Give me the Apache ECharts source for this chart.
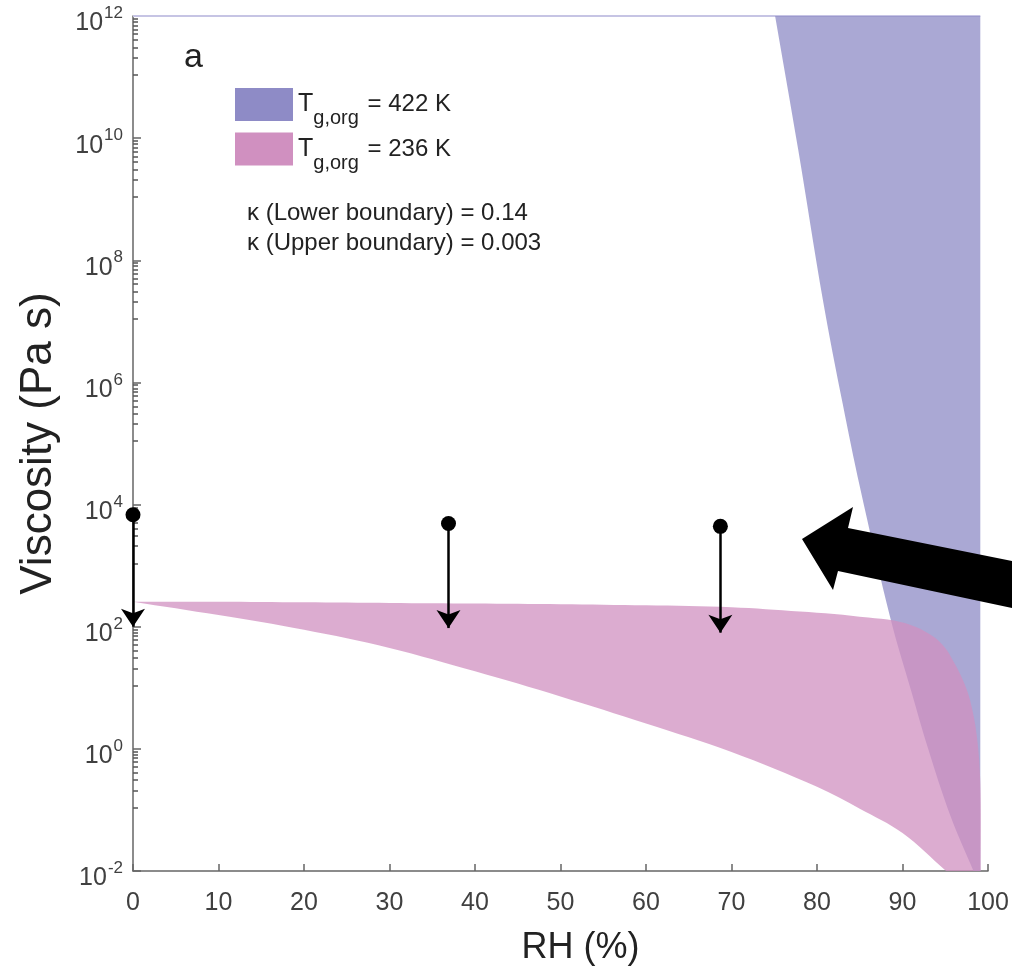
<!DOCTYPE html>
<html><head><meta charset="utf-8">
<script src="https://cdn.jsdelivr.net/npm/echarts@6/dist/echarts.min.js"></script>
<style>html,body{margin:0;padding:0;background:#fff}#c{width:1012px;height:978px}</style>
</head><body><div id="c"></div>
<script>
// ---- data ----
const xTickValues = [0, 10, 20, 30, 40, 50, 60, 70, 80, 90, 100];
// T_g,org = 422 K region: lower boundary then right edge (RH %, viscosity Pa s)
const blueRH   = [75.1, 77.8, 80.7, 83.0, 85.0, 88.6, 91.0, 93.0, 95.6, 98.3, 99.1, 99.1];
const blueVisc = [1e12, 6.5e9, 2.2e7, 4.5e5, 2.0e4, 135, 9, 1.0, 0.08, 0.01, 0.01, 1e12];
// T_g,org = 236 K region: upper boundary (kappa = 0.003)
const pinkUpperRH   = [0, 10, 20, 30, 40, 50, 60, 70, 78, 82, 86, 89, 91.5, 93.6, 95.0, 95.9, 97.0, 97.9, 98.7, 99.1, 99.15];
const pinkUpperVisc = [257, 257, 251, 245, 240, 234, 224, 209, 178, 162, 141, 126, 100, 69, 45, 28, 14, 6.3, 1.6, 0.28, 0.01];
// lower boundary (kappa = 0.14)
const pinkLowerRH   = [0, 10, 20, 30, 40, 50, 60, 70, 80, 85, 90, 95.1];
const pinkLowerVisc = [257, 155, 89, 45, 18.6, 7.2, 2.6, 0.89, 0.24, 0.105, 0.042, 0.01];
// measurements with downward arrows
const dotRH = [0, 36.9, 68.7];
const dotVisc = [6.8e3, 4.9e3, 4.4e3];
const arrowTipVisc = [100, 95, 80];
const topLineRH = [0, 99.1];
const topLineVisc = [1e12, 1e12];
const legendNames = ['T_g,org = 422 K', 'T_g,org = 236 K'];
const seriesColors = ['#8e8bc6', '#d090c0'];

const FONT = 'Liberation Sans, Arial, Helvetica, sans-serif';
const chart = echarts.init(document.getElementById('c'), null, {renderer: 'canvas'});

// corners: indices of vertices kept sharp while the outline is smoothed
function regionSeries(name, xs, ys, color, z, corners) {
  return {
    type: 'custom', name: name, coordinateSystem: 'cartesian2d', clip: true, silent: true, z: z,
    itemStyle: {color: color},
    data: [[xs[0], ys[0]]],
    encode: {x: 0, y: 1},
    renderItem: function (params, api) {
      const pts = [];
      xs.forEach((x, i) => {
        const p = api.coord([x, ys[i]]);
        pts.push(p);
        if (corners.indexOf(i) >= 0) pts.push([p[0], p[1]]);
      });
      return {type: 'polygon', shape: {points: pts, smooth: 0.35}, style: {fill: color, opacity: 0.75}};
    }
  };
}

const pinkRH = pinkUpperRH.concat(pinkLowerRH.slice().reverse());
const pinkVisc = pinkUpperVisc.concat(pinkLowerVisc.slice().reverse());
const nUp = pinkUpperRH.length;

const option = {
  animation: false,
  backgroundColor: '#fff',
  grid: {left: 133, right: 24, top: 16, bottom: 107, containLabel: false},
  xAxis: {
    type: 'value', min: 0, max: 100, interval: 10,
    axisLine: {show: true, onZero: false, lineStyle: {color: '#666', width: 1.5}},
    axisTick: {show: true, inside: true, length: 7, lineStyle: {color: '#666', width: 1.5}},
    splitLine: {show: false},
    axisLabel: {margin: 20, fontSize: 25, color: '#404040', fontFamily: FONT,
      formatter: v => xTickValues.indexOf(v) >= 0 ? String(v) : ''},
    name: 'RH (%)', nameLocation: 'middle', nameGap: 59,
    nameTextStyle: {fontSize: 36, color: '#222', fontFamily: FONT, padding: [0, 0, 0, 40]}
  },
  yAxis: {
    type: 'log', logBase: 10, min: 0.01, max: 1e12, interval: 2,
    axisLine: {show: true, lineStyle: {color: '#666', width: 1.5}},
    axisTick: {show: true, inside: true, length: 8, lineStyle: {color: '#666', width: 1.5}},
    minorTick: {show: true, splitNumber: 10, length: 5, lineStyle: {color: '#555', width: 1.5}},
    splitLine: {show: false},
    axisLabel: {
      margin: 10, fontFamily: FONT, color: '#404040',
      formatter: v => '{b|10}{e|' + Math.round(Math.log10(v)) + '}',
      rich: {
        b: {fontSize: 25, color: '#404040', fontFamily: FONT, padding: [15, 0, 0, 0]},
        e: {fontSize: 17, color: '#404040', fontFamily: FONT, padding: [0, 0, 5, 1]}
      }
    },
    name: 'Viscosity (Pa s)', nameLocation: 'middle', nameGap: 72,
    nameTextStyle: {fontSize: 44, color: '#222', fontFamily: FONT}
  },
  legend: {
    orient: 'vertical', left: 235, top: 88, padding: 0, itemGap: 4,
    itemWidth: 58, itemHeight: 33, icon: 'rect', selectedMode: false,
    data: legendNames,
    formatter: n => '{t|T}{s|g,org}{n| = ' + n.split('= ')[1] + '}',
    textStyle: {
      fontFamily: FONT, color: '#222',
      rich: {
        t: {fontSize: 25, color: '#222', fontFamily: FONT},
        s: {fontSize: 20, color: '#222', fontFamily: FONT, padding: [28, 2, 0, 0]},
        n: {fontSize: 24, color: '#222', fontFamily: FONT}
      }
    }
  },
  graphic: [
    {type: 'text', x: 184, y: 58, style: {text: 'a', fontSize: 34, fontFamily: FONT, fill: '#222', verticalAlign: 'middle'}},
    {type: 'text', x: 247, y: 213, style: {text: 'κ (Lower boundary) = 0.14', fontSize: 24, fontFamily: FONT, fill: '#222', verticalAlign: 'middle'}},
    {type: 'text', x: 247, y: 243, style: {text: 'κ (Upper boundary) = 0.003', fontSize: 24, fontFamily: FONT, fill: '#222', verticalAlign: 'middle'}},
    {type: 'polygon', z: 100, shape: {points: [[802, 539], [853, 507], [848, 528], [1012, 561], [1012, 608], [838, 571], [833, 590]]}, style: {fill: '#000'}}
  ],
  series: [
    regionSeries(legendNames[0], blueRH, blueVisc, seriesColors[0], 2, [0, 9, 10, 11]),
    regionSeries(legendNames[1], pinkRH, pinkVisc, seriesColors[1], 3, [0, nUp - 1, nUp, pinkRH.length - 1]),
    {
      type: 'line', name: 'top', silent: true, symbol: 'none', z: 1,
      data: topLineRH.map((x, i) => [x, topLineVisc[i]]),
      lineStyle: {color: '#c6c4e4', width: 2}
    },
    {
      type: 'lines', coordinateSystem: 'cartesian2d', silent: true, z: 6, clip: false,
      data: dotRH.map((x, i) => ({coords: [[x, dotVisc[i]], [x, arrowTipVisc[i]]]})),
      symbol: ['none', 'arrow'], symbolSize: 18,
      lineStyle: {color: '#000', width: 2.5, opacity: 1}
    },
    {
      type: 'scatter', silent: true, z: 7, clip: false,
      data: dotRH.map((x, i) => [x, dotVisc[i]]),
      symbol: 'circle', symbolSize: 15, itemStyle: {color: '#000', opacity: 1}
    }
  ]
};
chart.setOption(option);
</script>
</body></html>
